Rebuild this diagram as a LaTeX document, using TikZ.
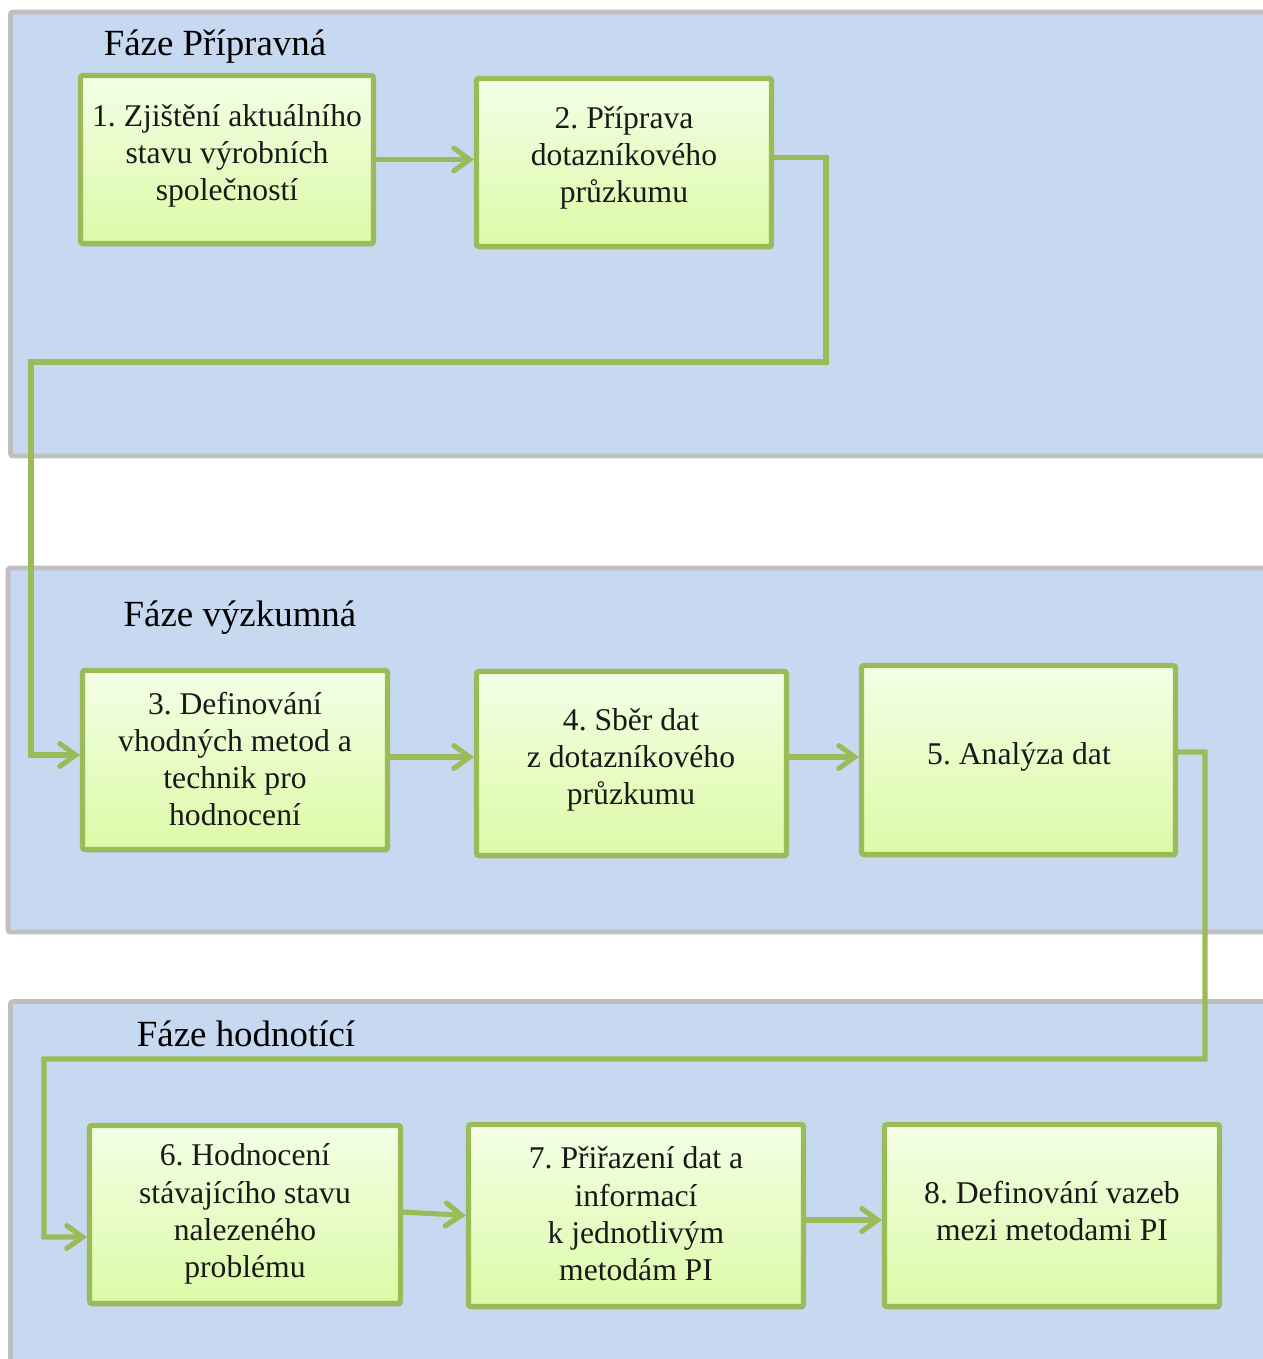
\documentclass[tikz,border=0pt]{standalone}
\usepackage{fontspec}
\setmainfont{Liberation Serif}
\frenchspacing
\usetikzlibrary{arrows.meta,shadows,calc}
\definecolor{panelfill}{HTML}{C6D9F0}
\definecolor{panelline}{HTML}{BFBFBF}
\definecolor{grn}{HTML}{9BBB59}
\definecolor{boxtop}{HTML}{F3FFE6}
\definecolor{boxbot}{HTML}{DCFAA6}
\tikzset{
  panel/.style={fill=panelfill, draw=panelline, line width=2.8pt, rounded corners=1.5pt},
  stepbox/.style={draw=grn, line width=2.9pt, rounded corners=1.2pt,
    top color=boxtop, bottom color=boxbot, inner sep=0pt,
    drop shadow={shadow xshift=0.5pt, shadow yshift=-1.6pt, opacity=0.35, fill=black!70}},
  boxtext/.style={align=center, font=\fontsize{18}{21.2}\selectfont, text=black!90, inner sep=0pt},
  phasetitle/.style={font=\fontsize{21}{24}\selectfont, text=black, inner sep=0pt},
  conn/.style={draw=grn, line width=2.9pt, line join=miter,
    -{Straight Barb[length=9pt,width=13pt,line cap=round]}}
}
\begin{document}
\begin{tikzpicture}[x=0.02cm,y=-0.02cm]
\useasboundingbox (0,0) rectangle (1263,1359);
\begin{scope}
\clip (0,0) rectangle (1263,1359);
\fill[white] (0,0) rectangle (1263,1359);
% panels
\draw[panel] (10.5,12) rectangle (1300,456);
\draw[panel] (8,568) rectangle (1300,932);
\draw[panel] (10.5,1001.5) rectangle (1300,1400);
\end{scope}

% phase titles
\node[phasetitle] (t1) at (215,47) {Fáze Přípravná};
\node[phasetitle] (t2) at (240,618) {Fáze výzkumná};
\node[phasetitle] (t3) at (246,1034) {Fáze hodnotící};

% boxes
\node[stepbox, minimum width=5.86cm, minimum height=3.36cm] (b1) at (227,159.5) {};
\node[stepbox, minimum width=5.90cm, minimum height=3.36cm] (b2) at (624,162.5) {};
\node[stepbox, minimum width=6.10cm, minimum height=3.58cm] (b3) at (235,760) {};
\node[stepbox, minimum width=6.20cm, minimum height=3.68cm] (b4) at (631.5,763.5) {};
\node[stepbox, minimum width=6.28cm, minimum height=3.78cm] (b5) at (1018.5,760) {};
\node[stepbox, minimum width=6.22cm, minimum height=3.56cm] (b6) at (245,1214.5) {};
\node[stepbox, minimum width=6.70cm, minimum height=3.64cm] (b7) at (636,1215.5) {};
\node[stepbox, minimum width=6.70cm, minimum height=3.64cm] (b8) at (1052,1215.5) {};

% texts
\node[boxtext] (x1) at (227,156) {1. Zjištění aktuálního\\stavu výrobních\\společností};
\node[boxtext] (x2) at (624,158) {2. Příprava\\dotazníkového\\průzkumu};
\node[boxtext] (x3) at (235,759) {3. Definování\\vhodných metod a\\technik pro\\hodnocení};
\node[boxtext] (x4) at (631,760) {4. Sběr dat\\z dotazníkového\\průzkumu};
\node[boxtext] (x5) at (1019,757) {5. Analýza dat};
\node[boxtext] (x6) at (245,1214) {6. Hodnocení\\stávajícího stavu\\nalezeného\\problému};
\node[boxtext] (x7) at (636,1214) {7. Přiřazení dat a\\informací\\k jednotlivým\\metodám PI};
\node[boxtext] (x8) at (1052,1211) {8. Definování vazeb\\mezi metodami PI};

% connectors
\draw[conn] (b1.east) -- (b1.east -| b2.west);
\draw[conn] ($(b2.east)+(0,-5)$) -- (826,157.5) -- (826,362) -- (31,362) -- (31,755) -- ($(b3.west)+(0,-5)$);
\draw[conn] ($(b3.east)+(0,-3)$) -- ($(b4.west)+(0,-6.5)$);
\draw[conn] ($(b4.east)+(0,-6.5)$) -- ($(b5.west)+(0,-3)$);
\draw[conn] ($(b5.east)+(0,-8)$) -- (1205,752) -- (1205,1059) -- (44,1059) -- (44,1237) -- ($(b6.west)+(0,22.5)$);
\draw[conn] ($(b6.east)+(0,-2.5)$) -- ($(b7.west)+(0,0)$);
\draw[conn] ($(b7.east)+(0,4.5)$) -- ($(b8.west)+(0,4.5)$);
\end{tikzpicture}
\end{document}
